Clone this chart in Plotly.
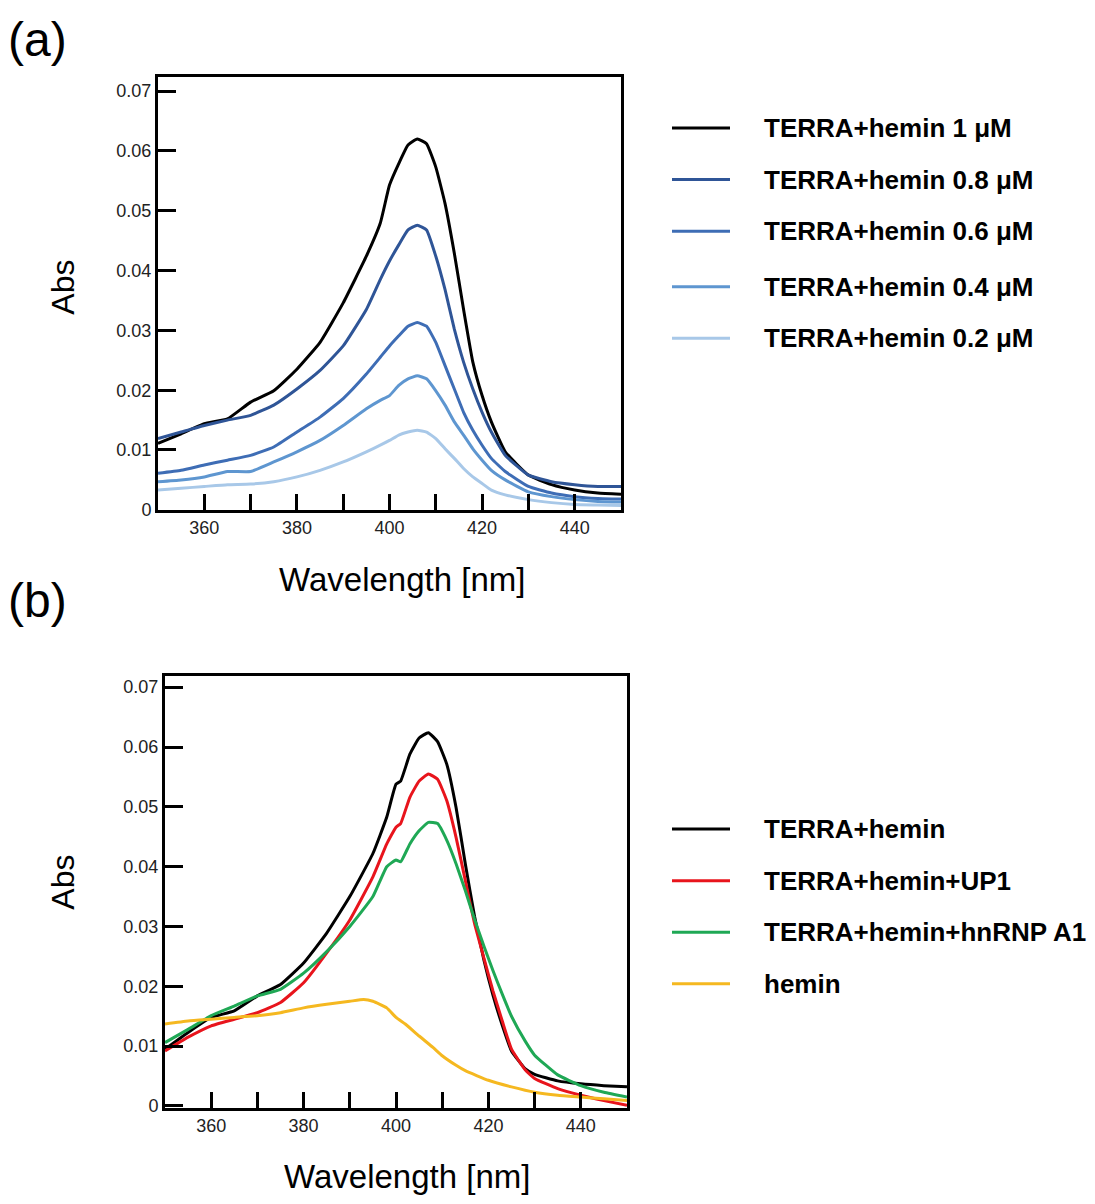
import plotly.graph_objects as go

W, H = 1095, 1204

# ---------------- Data: panel (a) ----------------
wl_a = [350, 355, 360, 365, 370, 375, 380, 385, 390, 395, 398, 400, 402, 404, 406,
        408, 410, 412, 414, 416, 418, 420, 422, 425, 430, 435, 440, 445, 450]
abs_1uM = [0.0111, 0.0127, 0.0144, 0.0152, 0.0180, 0.0199, 0.0235, 0.0280, 0.0346, 0.0424,
           0.0479, 0.0543, 0.0579, 0.0610, 0.0620, 0.0612, 0.0573, 0.0512, 0.0429, 0.0335,
           0.0247, 0.0191, 0.0147, 0.0097, 0.0058, 0.0042, 0.0033, 0.0028, 0.0026]
abs_08uM = [0.0119, 0.0130, 0.0141, 0.0150, 0.0158, 0.0175, 0.0202, 0.0233, 0.0274, 0.0335,
            0.0385, 0.0416, 0.0443, 0.0468, 0.0476, 0.0468, 0.0424, 0.0368, 0.0302, 0.0247,
            0.0202, 0.0163, 0.0130, 0.0091, 0.0058, 0.0047, 0.0042, 0.0039, 0.0039]
abs_06uM = [0.0061, 0.0066, 0.0075, 0.0083, 0.0091, 0.0105, 0.0130, 0.0155, 0.0186, 0.0227,
            0.0255, 0.0274, 0.0291, 0.0307, 0.0313, 0.0307, 0.0280, 0.0241, 0.0202, 0.0163,
            0.0133, 0.0108, 0.0086, 0.0064, 0.0039, 0.0028, 0.0022, 0.0019, 0.0018]
abs_04uM = [0.0047, 0.0050, 0.0055, 0.0064, 0.0064, 0.0080, 0.0097, 0.0116, 0.0141, 0.0169,
            0.0183, 0.0191, 0.0208, 0.0219, 0.0224, 0.0219, 0.0199, 0.0175, 0.0147, 0.0125,
            0.0102, 0.0083, 0.0066, 0.0050, 0.0030, 0.0022, 0.0017, 0.0014, 0.0013]
abs_02uM = [0.0033, 0.0036, 0.0039, 0.0042, 0.0043, 0.0047, 0.0055, 0.0066, 0.0080, 0.0097,
            0.0108, 0.0116, 0.0125, 0.0130, 0.0133, 0.0130, 0.0119, 0.0102, 0.0086, 0.0069,
            0.0055, 0.0044, 0.0033, 0.0025, 0.0017, 0.0012, 0.0009, 0.0008, 0.0007]

names_a = ["TERRA+hemin 1 μM", "TERRA+hemin 0.8 μM", "TERRA+hemin 0.6 μM",
           "TERRA+hemin 0.4 μM", "TERRA+hemin 0.2 μM"]
colors_a = ["#000000", "#2f5597", "#3e6db5", "#5e96d0", "#a8c8e8"]
series_a = [abs_1uM, abs_08uM, abs_06uM, abs_04uM, abs_02uM]

# ---------------- Data: panel (b) ----------------
wl_b = [350, 355, 360, 365, 370, 375, 380, 385, 390, 395, 398, 400, 401, 403, 405, 407,
        409, 411, 413, 415, 417, 419, 421, 423, 425, 428, 430, 435, 440, 445, 450]
abs_terra = [0.0095, 0.0123, 0.0148, 0.0159, 0.0184, 0.0203, 0.0239, 0.0289, 0.0350, 0.0422,
             0.0483, 0.0538, 0.0543, 0.0588, 0.0615, 0.0624, 0.0609, 0.0571, 0.0499, 0.0405,
             0.0317, 0.0245, 0.0185, 0.0135, 0.0092, 0.0062, 0.0053, 0.0042, 0.0037, 0.0034, 0.0032]
abs_up1 = [0.0092, 0.0115, 0.0134, 0.0145, 0.0156, 0.0173, 0.0206, 0.0256, 0.0311, 0.0383,
           0.0438, 0.0466, 0.0472, 0.0516, 0.0543, 0.0555, 0.0546, 0.0510, 0.0449, 0.0377,
           0.0305, 0.0248, 0.0192, 0.0142, 0.0095, 0.0060, 0.0046, 0.0029, 0.0018, 0.0009, 0.0001]
abs_hnrnp = [0.0106, 0.0128, 0.0151, 0.0167, 0.0184, 0.0195, 0.0222, 0.0258, 0.0300, 0.0350,
             0.0400, 0.0411, 0.0408, 0.0438, 0.0460, 0.0474, 0.0472, 0.0444, 0.0405, 0.0360,
             0.0312, 0.0268, 0.0226, 0.0187, 0.0150, 0.0108, 0.0085, 0.0052, 0.0034, 0.0023, 0.0015]
wl_hemin = [350, 355, 360, 365, 370, 375, 380, 385, 390, 393, 395, 398, 400, 402, 405, 408,
            410, 413, 415, 420, 425, 430, 435, 440, 445, 450]
abs_hemin = [0.0137, 0.0142, 0.0145, 0.0148, 0.0151, 0.0156, 0.0164, 0.0170, 0.0175, 0.0178,
             0.0175, 0.0164, 0.0148, 0.0137, 0.0117, 0.0098, 0.0084, 0.0068, 0.0059, 0.0043,
             0.0032, 0.0023, 0.0018, 0.0015, 0.0012, 0.0009]

names_b = ["TERRA+hemin", "TERRA+hemin+UP1", "TERRA+hemin+hnRNP A1", "hemin"]
colors_b = ["#000000", "#e8141c", "#1fa855", "#f5b820"]
series_b = [(wl_b, abs_terra), (wl_b, abs_up1), (wl_b, abs_hnrnp), (wl_hemin, abs_hemin)]

x_tickvals = [360, 370, 380, 390, 400, 410, 420, 430, 440]
x_ticktext = ["360", "", "380", "", "400", "", "420", "", "440"]
y_tickvals = [0, 0.01, 0.02, 0.03, 0.04, 0.05, 0.06, 0.07]
y_ticktext = ["0", "0.01", "0.02", "0.03", "0.04", "0.05", "0.06", "0.07"]

FONT = "Liberation Sans, Arial, sans-serif"

fig = go.Figure()
for name, col, ys in zip(names_a, colors_a, series_a):
    fig.add_trace(go.Scatter(x=wl_a, y=ys, mode="lines", name=name,
                             line=dict(color=col, width=3, shape="spline", smoothing=0.4),
                             xaxis="x", yaxis="y", showlegend=False))
for name, col, (xs, ys) in zip(names_b, colors_b, series_b):
    fig.add_trace(go.Scatter(x=xs, y=ys, mode="lines", name=name,
                             line=dict(color=col, width=3, shape="spline", smoothing=0.4),
                             xaxis="x2", yaxis="y2", showlegend=False))

# page offset of the figure inside the html body
OFF = 8

def px_x(p):
    return (p - OFF) / W

def px_y(p):
    return 1 - (p - OFF) / H

common_x = dict(range=[350, 450], tickvals=x_tickvals, ticktext=x_ticktext,
                ticks="inside", ticklen=16, tickwidth=3, tickcolor="black",
                showline=True, linewidth=3, linecolor="black", mirror=True,
                showgrid=False, zeroline=False,
                tickfont=dict(family=FONT, size=18, color="#222222"))
common_y = dict(tickvals=y_tickvals, ticktext=y_ticktext,
                ticks="inside", ticklen=18, tickwidth=3, tickcolor="black",
                showline=True, linewidth=3, linecolor="black", mirror=True,
                showgrid=False, zeroline=False,
                tickfont=dict(family=FONT, size=18, color="#222222"))

fig.update_layout(
    width=W, height=H,
    margin=dict(l=0, r=0, t=0, b=0),
    paper_bgcolor="white", plot_bgcolor="white",
    xaxis=dict(domain=[px_x(158), px_x(621)], anchor="y", **common_x),
    yaxis=dict(domain=[px_y(514), px_y(78)], anchor="x", range=[0, 0.0723], **common_y),
    xaxis2=dict(domain=[px_x(165), px_x(627)], anchor="y2", **common_x),
    yaxis2=dict(domain=[px_y(1117), px_y(682)], anchor="x2", range=[-0.0003, 0.0718], **common_y),
)

annotations = []
shapes = []

# Panel labels
annotations.append(dict(text="(a)", x=px_x(6), y=px_y(40), xref="paper", yref="paper",
                        xanchor="left", yanchor="middle", showarrow=False,
                        font=dict(family=FONT, size=48, color="black")))
annotations.append(dict(text="(b)", x=px_x(6), y=px_y(605), xref="paper", yref="paper",
                        xanchor="left", yanchor="middle", showarrow=False,
                        font=dict(family=FONT, size=48, color="black")))

# Axis titles
for cy in (290, 890):
    annotations.append(dict(text="Abs", x=px_x(63), y=px_y(cy), xref="paper", yref="paper",
                            xanchor="center", yanchor="middle", textangle=-90, showarrow=False,
                            font=dict(family=FONT, size=32, color="black")))
for cx, cy in ((402, 584), (407, 1186)):
    annotations.append(dict(text="Wavelength [nm]", x=px_x(cx), y=px_y(cy), xref="paper", yref="paper",
                            xanchor="center", yanchor="middle", showarrow=False,
                            font=dict(family=FONT, size=33, color="black")))

# Legends (drawn keys)
def add_legend(names, colors, rows):
    for name, col, ry in zip(names, colors, rows):
        shapes.append(dict(type="line", xref="paper", yref="paper",
                           x0=px_x(672), x1=px_x(730), y0=px_y(ry), y1=px_y(ry),
                           line=dict(color=col, width=3)))
        annotations.append(dict(text="<b>" + name + "</b>", x=px_x(762), y=px_y(ry),
                                xref="paper", yref="paper", xanchor="left", yanchor="middle",
                                showarrow=False,
                                font=dict(family=FONT, size=26, color="black")))

add_legend(names_a, colors_a, [129, 181, 233, 289, 341])
add_legend(names_b, colors_b, [836, 888, 940, 992])

fig.update_layout(annotations=annotations, shapes=shapes)
fig.write_html("out.html")
